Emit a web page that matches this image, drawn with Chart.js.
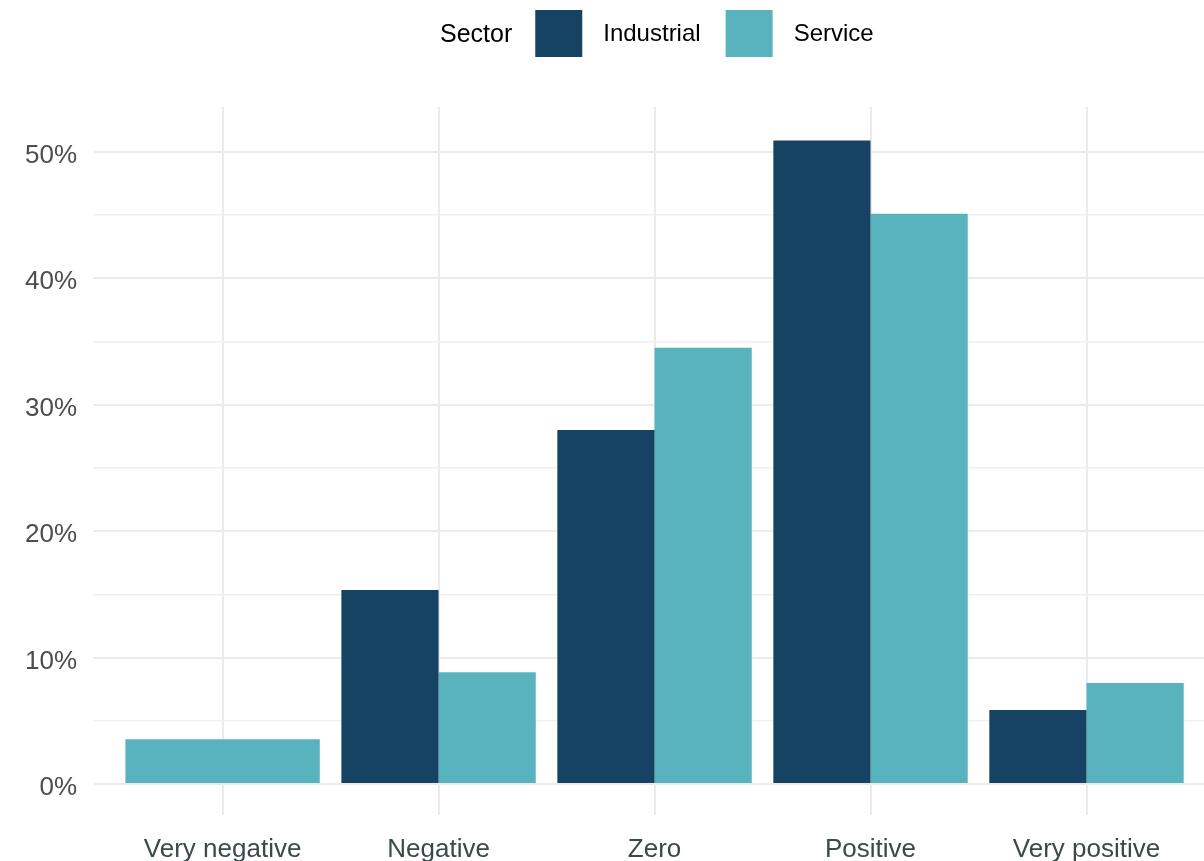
<!DOCTYPE html>
<html>
<head>
<meta charset="utf-8">
<script src="https://cdn.jsdelivr.net/npm/chart.js@4/dist/chart.umd.min.js"></script>
<style>
  html, body { margin:0; padding:0; background:#fff; overflow:hidden; }
</style>
</head>
<body>
<canvas id="chart" width="1204" height="861"></canvas>
<script>
// data
const categories = ['Very negative', 'Negative', 'Zero', 'Positive', 'Very positive'];
const industrial = [null, 15.35, 28.0, 50.9, 5.85];
const service = [3.55, 8.85, 34.5, 45.1, 8.0];
const yTicks = [0, 5, 10, 15, 20, 25, 30, 35, 40, 45, 50];
const sectorNames = ['Industrial', 'Service'];
const sectorColors = ['#164364', '#58b3be'];

const font = 'Liberation Sans, Arial, sans-serif';

// ggplot style legend: title on the left, boxes in a row
const sideLegend = {
  id: 'sideLegend',
  afterDraw(chart) {
    let ctx = chart.ctx;
    ctx.save();
    ctx.textBaseline = 'alphabetic';
    ctx.fillStyle = '#000';
    ctx.font = '25px ' + font;
    let x = 440;
    ctx.fillText('Sector', x, 42);
    x += ctx.measureText('Sector').width + 23;
    ctx.font = '24px ' + font;
    chart.data.datasets.forEach((ds, i) => {
      ctx.fillStyle = ds.backgroundColor;
      ctx.fillRect(x, 10, 47, 47);
      x += 47 + 21;
      ctx.fillStyle = '#000';
      ctx.fillText(ds.label, x, 41);
      x += ctx.measureText(ds.label).width + 25;
    });
    ctx.restore();
  }
};

const toPoints = arr => arr.map((v, i) => ({x: i + 1, y: v}));

new Chart(document.getElementById('chart'), {
  type: 'bar',
  data: {
    datasets: [
      {label: sectorNames[0], data: toPoints(industrial), backgroundColor: sectorColors[0]},
      {label: sectorNames[1], data: toPoints(service), backgroundColor: sectorColors[1]}
    ]
  },
  options: {
    responsive: false,
    animation: false,
    skipNull: true,
    categoryPercentage: 0.9,
    barPercentage: 1.0,
    borderWidth: 0,
    layout: {padding: {top: 107, left: 0, right: 0, bottom: 0}},
    plugins: {legend: {display: false}, tooltip: {enabled: false}},
    scales: {
      x: {
        type: 'linear',
        min: 0.4,
        max: 5.544,
        offset: false,
        afterBuildTicks: s => { s.ticks = categories.map((c, i) => ({value: i + 1})); },
        afterFit: s => { s.height = 46; },
        ticks: {
          callback: v => categories[v - 1],
          autoSkip: false, maxRotation: 0,
          font: {family: font, size: 26},
          color: '#3d4849',
          padding: 19
        },
        grid: {color: '#ebebeb', lineWidth: 2, drawTicks: false, offset: false},
        border: {display: false}
      },
      y: {
        min: -2.45,
        max: 53.55,
        afterBuildTicks: s => { s.ticks = yTicks.map(v => ({value: v})); },
        afterFit: s => { s.width = 93; },
        ticks: {
          callback: v => (v % 10 === 0 ? v + '%' : ''),
          font: {family: font, size: 26},
          color: '#4d4d4d',
          padding: 16,
          labelOffset: 4
        },
        grid: {
          color: ctx => (ctx.tick && ctx.tick.value % 10 === 0 ? '#ebebeb' : '#f0f0f0'),
          lineWidth: ctx => (ctx.tick && ctx.tick.value % 10 === 0 ? 2 : 1.4),
          drawTicks: false
        },
        border: {display: false}
      }
    }
  },
  plugins: [sideLegend]
});
</script>
</body>
</html>
